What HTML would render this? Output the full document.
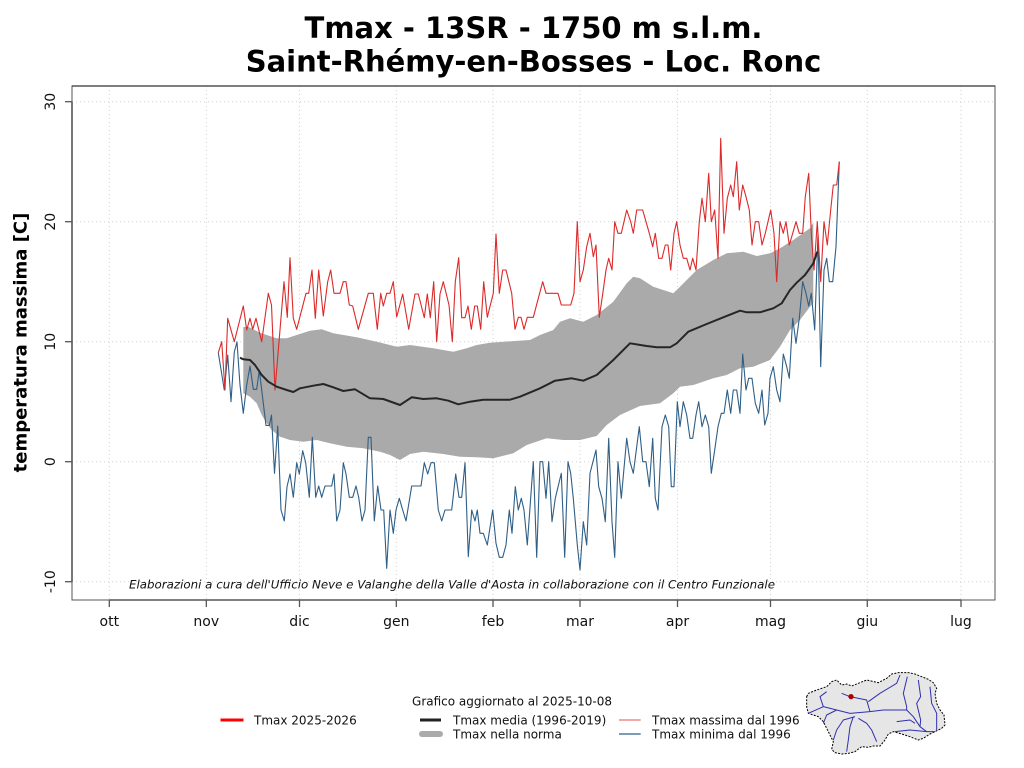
<!DOCTYPE html>
<html><head><meta charset="utf-8"><style>
html,body{margin:0;padding:0;background:#fff;}
svg{display:block;font-family:"DejaVu Sans","Liberation Sans",sans-serif;}
</style></head><body>
<svg width="1024" height="768" viewBox="0 0 1024 768" xmlns="http://www.w3.org/2000/svg">
<rect width="1024" height="768" fill="#fff"/>
<!-- title -->
<text x="533.5" y="38" font-size="29" font-weight="bold" text-anchor="middle" fill="#000">Tmax - 13SR - 1750 m s.l.m.</text>
<text x="533.5" y="71.5" font-size="29" font-weight="bold" text-anchor="middle" fill="#000">Saint-Rhémy-en-Bosses - Loc. Ronc</text>

<!-- grid -->
<g stroke="#d0d0d0" stroke-width="1" stroke-dasharray="1 3" fill="none">
<line x1="72" y1="101.7" x2="995" y2="101.7"/>
<line x1="72" y1="221.7" x2="995" y2="221.7"/>
<line x1="72" y1="341.7" x2="995" y2="341.7"/>
<line x1="72" y1="461.7" x2="995" y2="461.7"/>
<line x1="72" y1="581.7" x2="995" y2="581.7"/>
<line x1="109.3" y1="86" x2="109.3" y2="600"/>
<line x1="206.3" y1="86" x2="206.3" y2="600"/>
<line x1="299.5" y1="86" x2="299.5" y2="600"/>
<line x1="396.3" y1="86" x2="396.3" y2="600"/>
<line x1="493" y1="86" x2="493" y2="600"/>
<line x1="580" y1="86" x2="580" y2="600"/>
<line x1="677.5" y1="86" x2="677.5" y2="600"/>
<line x1="770.5" y1="86" x2="770.5" y2="600"/>
<line x1="867.3" y1="86" x2="867.3" y2="600"/>
<line x1="961" y1="86" x2="961" y2="600"/>
</g>

<!-- band -->
<polygon fill="#aaaaaa" points="243.3,327 248.3,326.7 253.3,329.3 260,332.7 266.7,335 276.7,338.3 286.7,338.3 296.7,335 310,330.7 321.7,329.3 333.3,333.3 356.7,337.3 376.7,341.7 396.7,346.7 410,345 433.3,348.3 453.3,351.7 466.7,348.3 476.7,345 490,342.7 530,340 540,335 553.3,330 560,321.7 570,318.3 583.3,321.7 596.7,315 613.3,301.7 626.7,283.3 633.3,276.7 640,278.3 653.3,286.7 673.3,293.3 680,286.7 696.7,270 713.3,260 726.7,253.3 743.3,251.7 756.7,256 770,253.3 780,248.3 793.3,240 810,228.3 813.3,222.5 813.3,303 810,306.7 800,320 790,330 780,346.7 770,360 753.3,366.7 740,368.3 726.7,375 713.3,378.3 693.3,385 680,386.7 673.3,393.3 660,403.3 640,406 620,415 606.7,425 596.7,436 580,440 563.3,440 546.7,438.3 526.7,445 513.3,453.3 493.3,458.3 476.7,457.3 460,456.7 443.3,454 423.3,451.7 410,454 400,460 390,455 380,451.7 363.3,448.3 346.7,446.7 330,443.3 316.7,440 303.3,441.7 290,440 280,436.7 271.7,430 266.7,423.3 261.7,415 256.7,403.3 250,396.7 243.3,393.3"/>

<!-- min line -->
<polyline fill="none" stroke="#2f5f86" stroke-width="1.1" stroke-linejoin="round" points="218.3,352.7 224.3,390 227.7,355 231,401.7 234.3,352 237,342 240,385 243.3,413.3 246.7,385 250,366 253.3,389.3 256.7,389.3 259.3,370 263.3,403.3 266,425.5 269.3,425.5 271.5,415 274.5,473.3 277.7,426 281,510 284.3,521 287,486.7 290,474 293.3,497.3 296.7,462.7 299.3,474 302.7,450.7 305.7,462.7 309.3,497.3 312.3,437.3 315.7,497.3 318.7,486 321.7,497.3 325,486 331.7,486 334,474 336.7,521 340,510 343.3,462.7 346,474 349.3,497.3 352.7,497.3 356,486 358.7,497.3 362,521 365,510 368.3,437.3 371,437.3 374.3,521 377.7,486 381,510 383.7,510 386.7,568.3 390,510 393.3,533.3 396,510 399.3,498.3 402.7,510 406,521 411.7,486 417.3,486 421,486 424.3,462.7 427.7,474 431,462.7 434.3,462.7 438.3,510 441.7,521 445,510 448.3,510 451.7,510 455.7,474 459,497.3 461.7,497.3 465,462.7 468.3,556.7 471.7,510 475,521 477.3,510 480,533.3 483.3,533.3 487.3,545 492.7,510 496,543.3 499.3,557.3 502.7,557.3 506,545 509.3,510 512,533.3 515.3,486.7 518.3,510 521.3,498.3 524,510 527.3,545 533.3,461.7 536.7,557.3 540,461.7 542.7,461.7 546,498.3 548.7,461.7 552,521.7 555.3,498.3 561.3,473.3 564.7,557.3 568,461.7 570.7,473.3 573.3,498.3 577.3,545 580,570 583.3,521.7 586.7,545 590,473.3 596,450 598.7,486.7 602,498.3 605.3,521.7 608.7,438.3 612,521.7 614.7,557.3 618,461.7 621.3,498.3 626.7,438.3 630,461.7 633.3,473.3 639.3,426.7 642.7,461.7 646,461.7 649.3,486.7 652.7,438.3 655.3,498.3 658,510 662,426.7 665.3,415 668.7,426.7 671.3,486.7 674,486.7 677.3,401.7 680,426.7 683.3,401.7 686.7,415 690,438.3 692.7,438.3 696,415 698.7,401.7 702,426.7 705.3,415 708.7,426.7 711.3,473.3 714.7,450 718,426.7 721.3,413.3 724,413.3 727.3,390 730.7,413.3 733.3,390 736.7,390 740,413.3 742.7,354 746,390 748.7,378.3 752,378.3 755.3,403.3 758.7,413.3 762,390 764.7,425 768,413.3 770,378.3 773.3,366.7 776.7,390 780,401.7 783.3,354 786.7,366.7 789.3,378.3 792.7,318.3 796,343.3 799.3,318.3 802.7,281.7 806,293.3 808.7,306 811.3,293.3 814.7,330 818,233.3 820.7,366.7 824,270 826.7,258.3 829.3,281.7 832.7,281.7 836,246.7 839.3,161.7"/>

<!-- max line -->
<polyline fill="none" stroke="#dc2a2a" stroke-width="1.1" stroke-linejoin="round" points="218.3,352.7 221.7,341.7 225,390 227.7,318.3 234.3,341.7 243.3,306 246.7,330 250,318.3 252.7,329.3 256,318.3 261.7,341.7 268.3,293.3 271.5,305 275,390 284,281.7 287.3,317.3 290,257.7 293.3,318.3 296.7,329.3 306,293.3 308.7,293.3 312,270 315.3,318.3 318.7,270 323.3,316 327.7,281.7 330.7,270 334,293.3 340,293.3 343.3,281.7 346,281.7 349.3,305 352.7,306 358.3,329.3 368.3,293.3 373.3,293.3 377.3,329.3 380.7,293.3 383.3,306 386.7,293.3 390,293.3 393.3,281.7 396.7,317 402.7,294 408.7,329.3 415,294 418.3,294 424.3,317.7 427.3,294 430.3,317.7 433.7,281.7 436.7,341.7 440,294 443.3,281.7 449,305 452.3,341.7 455.3,281.7 458.7,257.7 461.7,317.7 465,317.7 468,306 471.3,329.3 474.7,306 477.3,306 480.7,329.3 483.7,281.7 487.3,317.3 493.3,293.3 496,234 499.3,293.3 502.7,270 506,270 511.7,293.3 515,329.3 518.3,317.3 521,317.3 524,329.3 527.3,317.3 533.3,317.3 542.7,281.7 546,293.3 558,293.3 561.3,305 570.7,305 574,293.3 577.3,221.7 580,281.7 583.3,270 586.7,246.7 590,233.3 593.3,256.7 596,245 599.3,317.3 602.7,294 606,270 608.7,258.3 612,270 614.7,221.7 618,233.3 621.3,233.3 626.7,210 630.7,221.7 633.3,233.3 636.7,210 642.7,210 646,221.7 649.3,233.3 652.7,246.7 655.3,233.3 658.7,258.3 662,258.3 665.3,245 668,245 670.7,270 674,233.3 676.7,221.7 680,245 683.3,258.3 686.7,258.3 690,270 692.7,258.3 696,270 699.3,221.7 702,198.3 705.3,221.7 708.7,173.3 711.3,221.7 714.7,210 718,258.3 720.7,138.3 724,233.3 727.3,198.3 730.7,185 733.3,196.7 736.7,161.7 739.3,210 742.7,185 746,196.7 749.3,210 752,245 755.3,221.7 758.7,221.7 762,245 765.3,233.3 770.7,210 774,233.3 776.7,281.7 780,221.7 783.3,233.3 786,221.7 789.3,245 792.7,233.3 796,221.7 799.3,233.3 802.7,233.3 805.3,196.7 808.7,173.3 811.3,233.3 814,270 817.3,221.7 820.7,281.7 824,221.7 827.3,245 830.7,210 833.3,185 836.7,185 839.3,161.7"/>

<!-- mean line -->
<polyline fill="none" stroke="#262626" stroke-width="2" stroke-linejoin="round" points="240,357.7 243.3,359.3 250,360 255,365 261.7,375 268.3,381.7 276.7,386.7 286.7,390 293.3,392 300,388.3 313.3,385.7 323.3,384 333.3,387.3 343.3,391 355,389.3 370,398.3 383.3,399 400,405 411.7,397.3 423.3,399 436.7,398.3 448.3,400.7 458.3,404.3 470,401.7 483.3,399.7 510,399.7 520,396.7 540,388.3 555,380.7 571.7,378.3 583.3,380.7 596.7,375 613.3,360 630,343.3 646.7,346 656.7,347.3 670,347.3 676.7,343.3 688.3,331.7 706.7,324 723.3,317.3 740,310.7 746.7,312.3 760,312.3 773.3,308.3 781.7,303.3 790,290 796.7,282.7 805,275 813.3,263.3 817.3,251.7"/>

<!-- box & axes -->
<rect x="72" y="86" width="923" height="514" fill="none" stroke="#555" stroke-width="1"/>
<line x1="72" y1="86" x2="995" y2="86" stroke="#333" stroke-width="1.2"/>
<line x1="72" y1="101.7" x2="72" y2="581.7" stroke="#555" stroke-width="1.6"/>
<line x1="109.3" y1="600" x2="961" y2="600" stroke="#555" stroke-width="1.6"/>
<g stroke="#555" stroke-width="1.3">
<line x1="65" y1="101.7" x2="72" y2="101.7"/>
<line x1="65" y1="221.7" x2="72" y2="221.7"/>
<line x1="65" y1="341.7" x2="72" y2="341.7"/>
<line x1="65" y1="461.7" x2="72" y2="461.7"/>
<line x1="65" y1="581.7" x2="72" y2="581.7"/>
<line x1="109.3" y1="600" x2="109.3" y2="607"/>
<line x1="206.3" y1="600" x2="206.3" y2="607"/>
<line x1="299.5" y1="600" x2="299.5" y2="607"/>
<line x1="396.3" y1="600" x2="396.3" y2="607"/>
<line x1="493" y1="600" x2="493" y2="607"/>
<line x1="580" y1="600" x2="580" y2="607"/>
<line x1="677.5" y1="600" x2="677.5" y2="607"/>
<line x1="770.5" y1="600" x2="770.5" y2="607"/>
<line x1="867.3" y1="600" x2="867.3" y2="607"/>
<line x1="961" y1="600" x2="961" y2="607"/>
</g>

<!-- y tick labels -->
<g font-size="14" fill="#111" text-anchor="middle">
<text transform="translate(55,101.7) rotate(-90)">30</text>
<text transform="translate(55,221.7) rotate(-90)">20</text>
<text transform="translate(55,341.7) rotate(-90)">10</text>
<text transform="translate(55,461.7) rotate(-90)">0</text>
<text transform="translate(55,581.7) rotate(-90)">-10</text>
</g>
<text transform="translate(26.5,342.5) rotate(-90)" font-size="18" font-weight="bold" text-anchor="middle" fill="#000">temperatura massima [C]</text>

<!-- x tick labels -->
<g font-size="14" fill="#111" text-anchor="middle">
<text x="109.3" y="626">ott</text>
<text x="206.3" y="626">nov</text>
<text x="299.5" y="626">dic</text>
<text x="396.3" y="626">gen</text>
<text x="493" y="626">feb</text>
<text x="580" y="626">mar</text>
<text x="677.5" y="626">apr</text>
<text x="770.5" y="626">mag</text>
<text x="867.3" y="626">giu</text>
<text x="961" y="626">lug</text>
</g>

<!-- caption -->
<text x="129" y="588.5" font-size="11.6" font-style="italic" fill="#111" textLength="646" lengthAdjust="spacingAndGlyphs">Elaborazioni a cura dell'Ufficio Neve e Valanghe della Valle d'Aosta in collaborazione con il Centro Funzionale</text>

<!-- legend -->
<text x="512" y="705.5" font-size="12" text-anchor="middle" fill="#111">Grafico aggiornato al 2025-10-08</text>
<line x1="220.5" y1="720" x2="243.5" y2="720" stroke="#ff0000" stroke-width="3"/>
<text x="254" y="724.5" font-size="12" fill="#111">Tmax 2025-2026</text>
<line x1="420" y1="720" x2="441" y2="720" stroke="#222" stroke-width="3"/>
<text x="453" y="724.5" font-size="12" fill="#111">Tmax media (1996-2019)</text>
<line x1="422" y1="734" x2="440" y2="734" stroke="#aaaaaa" stroke-width="6" stroke-linecap="round"/>
<text x="453" y="738.5" font-size="12" fill="#111">Tmax nella norma</text>
<line x1="619" y1="720" x2="640.7" y2="720" stroke="#f08a8a" stroke-width="1.5"/>
<text x="652" y="724.5" font-size="12" fill="#111">Tmax massima dal 1996</text>
<line x1="619" y1="734" x2="640.7" y2="734" stroke="#2f5f86" stroke-width="1.2"/>
<text x="652" y="738.5" font-size="12" fill="#111">Tmax minima dal 1996</text>

<!-- map -->
<g transform="translate(800,660) scale(0.33333)">
<polygon fill="#e6e6e6" stroke="#000" stroke-width="3" stroke-dasharray="6 4" points="20,110 25,100 50,90 80,80 95,65 110,60 125,75 140,72 155,78 180,68 200,60 235,68 260,55 275,42 295,38 325,38 345,42 365,50 385,58 400,68 410,85 405,100 410,130 420,150 432,165 435,195 425,205 405,215 390,222 370,235 355,240 330,230 305,222 280,215 265,222 255,240 240,258 220,258 205,262 185,260 165,275 145,280 125,282 105,278 95,268 100,245 90,225 80,205 70,185 55,170 40,165 25,160 20,140"/>
<g fill="none" stroke="#3030b0" stroke-width="3" stroke-linejoin="round">
<polyline points="25,160 70,140 110,150 150,160 210,155 250,150 320,150 340,170 360,200 380,215 405,215"/>
<polyline points="125,100 150,110 200,120 210,155"/>
<polyline points="205,125 240,100 290,70 300,45"/>
<polyline points="322,50 310,100 320,140 320,150"/>
<polyline points="355,60 362,110 350,130 362,180 360,200"/>
<polyline points="390,80 395,130 410,160 410,210"/>
<polyline points="160,170 150,200 145,240 140,275"/>
<polyline points="175,175 200,190 215,210 230,245"/>
<polyline points="165,170 130,180 110,210 100,240"/>
<polyline points="290,185 330,180 345,190"/>
<polyline points="285,215 330,210 380,215"/>
<polyline points="70,140 60,110 80,95"/>
<polyline points="110,150 80,165 70,190"/>
</g>
<circle cx="153" cy="110" r="8" fill="#aa0000"/>
</g>
</svg>
</body></html>
